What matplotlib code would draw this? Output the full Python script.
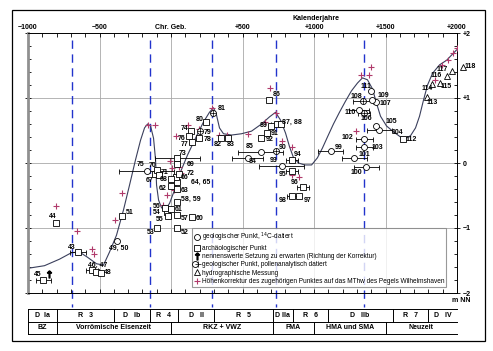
import matplotlib.pyplot as plt
from matplotlib.lines import Line2D
from matplotlib.patches import Rectangle
from matplotlib.ticker import MultipleLocator
from matplotlib.legend_handler import HandlerTuple

plt.rcParams['font.family'] = ['Liberation Sans', 'DejaVu Sans']

# Meeresspiegelkurve (Kalenderjahr, m NN)
curve_year = [-1000, -885, -780, -696, -640, -584, -521, -472, -430, -381, -332, -290,
              -248, -213, -185, -164, -143, -122, -108, -101, -87, -66, -38, -10, 24,
              66, 115, 171, 227, 269, 297, 318, 339, 367, 423, 493, 563, 633, 689, 731,
              766, 801, 829, 857, 892, 934, 983, 1024, 1059, 1094, 1136, 1178, 1220,
              1262, 1304, 1339, 1374, 1409, 1437, 1465, 1507, 1556, 1605, 1640, 1675,
              1710, 1738, 1766, 1794, 1829, 1878, 1927, 1962, 1997]
curve_h = [-1.62, -1.58, -1.48, -1.38, -1.37, -1.45, -1.55, -1.57, -1.37, -1.11, -0.72,
           -0.34, 0.05, 0.35, 0.54, 0.60, 0.57, 0.38, 0.05, -0.34, -0.57, -0.69, -0.71,
           -0.62, -0.42, -0.14, 0.12, 0.38, 0.63, 0.78, 0.85, 0.74, 0.54, 0.45, 0.43,
           0.45, 0.49, 0.60, 0.71, 0.78, 0.66, 0.46, 0.25, 0.08, 0.0, -0.03, -0.03,
           0.08, 0.23, 0.40, 0.60, 0.78, 0.95, 1.11, 1.23, 1.31, 1.28, 1.14, 0.92,
           0.72, 0.57, 0.48, 0.40, 0.38, 0.42, 0.54, 0.72, 0.97, 1.20, 1.38, 1.51,
           1.58, 1.66, 1.74]

# Punkte: c = 14C, s = archäologisch, p = pollenanalytisch, t = hydrographisch
pt_label = ['45', '44', '43', '46, 47', '', '48', '49, 50', '51', '52', '53', '54', '55',
            '56', '57', '58, 59', '60', '61', '62', '63', '64, 65', '66', '67', '68', '69',
            '70', '71', '72', '73', '74', '75', '76', '77', '78', '79', '80', '81', '82',
            '83', '84', '85', '86', '87, 88', '', '89', '90', '91', '92', '93', '94', '95',
            '96', '97', '98', '99', '100', '101', '102', '103', '104', '105', '106', '107',
            '108', '109', '110', '111', '112', '113', '114', '115', '116', '117', '118']
pt_kind = ['s', 's', 's', 's', 's', 's', 'c', 's', 's', 's', 's', 's',
           's', 's', 's', 's', 's', 's', 's', 's', 's', 's', 's', 's',
           's', 's', 's', 's', 's', 'c', 's', 's', 's', 'p', 's', 'p', 's',
           's', 'c', 'c', 's', 's', 's', 's', 'p', 's', 's', 'c', 's', 's',
           's', 's', 's', 'c', 'c', 'c', 'c', 'c', 'c', 'c', 'p', 'c',
           'p', 'c', 'c', 'c', 's', 't', 't', 't', 't', 't', 't']
pt_year = [-892, -801, -647, -549, -521, -493, -381, -346, 45, -101, -31, -24,
           -45, 45, 45, 150, 3, 3, 45, 45, 38, -115, 3, 45,
           -101, -87, 59, 45, 143, -171, 129, 150, 199, 206, 248, 297, 353,
           402, 535, 626, 682, 738, 766, 696, 731, 668, 626, 773, 843, 843,
           920, 892, 843, 1116, 1367, 1283, 1353, 1353, 1458, 1437, 1353, 1437,
           1346, 1409, 1318, 1402, 1619, 1787, 1822, 1878, 1927, 1962, 2039]
pt_h = [-1.80, -0.92, -1.37, -1.65, -1.68, -1.69, -1.20, -0.82, -1.00, -1.00, -0.75, -0.82,
        -0.69, -0.80, -0.60, -0.83, -0.71, -0.35, -0.40, -0.29, -0.22, -0.17, -0.25, -0.02,
        -0.11, -0.18, -0.17, 0.08, 0.49, -0.12, 0.42, 0.32, 0.38, 0.49, 0.63, 0.77, 0.38,
        0.38, 0.08, 0.17, 0.97, 0.60, 0.60, 0.57, 0.18, 0.46, 0.38, -0.05, 0.05, -0.12,
        -0.37, -0.51, -0.51, 0.18, -0.06, 0.08, 0.37, 0.25, 0.51, 0.57, 0.77, 0.94,
        0.95, 0.97, 0.82, 1.11, 0.37, 1.02, 1.22, 1.23, 1.34, 1.42, 1.48]
pt_xerr = [50, 0, 56, 42, 0, 0, 0, 0, 0, 0, 0, 0,
           0, 0, 0, 0, 0, 0, 0, 0, 0, 0, 0, 0,
           0, 0, 0, 155, 0, 190, 0, 0, 0, 0, 0, 0, 0,
           0, 110, 155, 0, 42, 0, 0, 0, 0, 0, 155, 42, 42,
           42, 0, 35, 90, 85, 85, 60, 60, 85, 0, 42, 0,
           70, 0, 70, 0, 0, 0, 0, 0, 0, 0, 0]

# Höhenkorrekturen auf das MThw
korr_year = [-801, -654, -549, -535, -395, -346, -164, -115, 38, 122, 199, 290, 339, 395,
             535, -10, 10, 59, 73, -31, 24, -59, 689, 731, 654, 773, 843, 843, 892,
             1297, 1332, 1388, 1402, 1843, 1892, 1934, 1969, 1997]
korr_h = [-0.66, -1.05, -1.32, -1.40, -0.88, -0.46, 0.58, 0.58, 0.42, 0.58, 0.52, 0.85, 0.43,
          0.43, 0.45, 0.03, -0.08, -0.06, -0.15, -0.49, -0.42, -0.65, 1.15, 0.77, 0.63, 0.34,
          0.25, -0.18, -0.22, 0.49, 1.35, 1.35, 1.48, 1.28, 1.51, 1.58, 1.69, 1.77]

setzung_year = [-850]
setzung_h = [-1.71]

grenz_jahre = [-690, -150, 290, 731, 1350]

phasen = ['D  Ia', 'R   3', 'D   Ib', 'R   4', 'D   II', 'R   5', 'D IIa', 'R   6',
          'D   IIb', 'R   7', 'D   IV']
phasen_grenzen = [-1000, -800, -400, -150, 50, 300, 710, 850, 1095, 1550, 1795, 2000]
epochen = ['BZ', 'Vorrömische Eisenzeit', 'RKZ + VWZ', 'FMA', 'HMA und SMA', 'Neuzeit']
epochen_grenzen = [-1000, -800, 0, 710, 1000, 1500, 2000]

x_ticks = [-1000, -500, 0, 500, 1000, 1500, 2000]
x_labels = ['−1000', '−500', 'Chr. Geb.', '+500', '+1000', '+1500', '+2000']
y_ticks = [-2, -1, 0, 1, 2]
y_labels = ['−2', '−1', '0', '+1', '+2']

label_off = {
    '45': (-6, 5), '44': (-4, 6), '43': (-7, 5), '46, 47': (5, 5), '48': (7, 0),
    '49, 50': (2, -7), '51': (8, 4), '52': (7, -5), '53': (-6, -4), '54': (-10, -1),
    '55': (-8, -3), '56': (-8, 1), '57': (7, -4), '58, 59': (13, 3), '60': (7, -2),
    '61': (7, 0), '62': (-9, -3), '63': (7, -1), '64, 65': (23, 0), '66': (8, 0),
    '67': (-5, -6), '68': (-8, 0), '69': (13, 0), '70': (-4, 5), '71': (6, 2),
    '72': (11, 1), '73': (5, 4), '74': (-7, 3), '75': (-6, 6), '76': (-8, -3),
    '77': (-8, -2), '78': (8, -1), '79': (7, -1), '80': (-7, 3), '81': (8, 4),
    '82': (-4, -6), '83': (2, -6), '84': (5, -4), '85': (-11, 5), '86': (8, 5),
    '87, 88': (15, 2), '89': (-7, 0), '90': (7, 4), '91': (8, 0), '92': (9, -1),
    '93': (-8, 6), '94': (6, 5), '95': (-9, -4), '96': (-8, 5), '97': (9, -4),
    '98': (-9, -4), '99': (8, 4), '100': (-10, -6), '101': (10, 3), '102': (-17, 1),
    '103': (13, -1), '104': (18, -3), '105': (15, 4), '106': (2, -6), '107': (9, -2),
    '108': (-7, 5), '109': (11, 4), '110': (-9, -3), '111': (-5, 4), '112': (9, -1),
    '113': (6, -6), '114': (-4, -5), '115': (7, -3), '116': (-10, 0), '117': (-9, 1),
    '118': (8, 0),
}

W, H = 493, 351
fig = plt.figure(figsize=(W / 100, H / 100), dpi=100)
ax = fig.add_axes([28 / W, 1 - 293 / H, (457 - 28) / W, (293 - 33) / H])
ax.set_xlim(-1000, 2000)
ax.set_ylim(-2, 2)

# Gitter
for x in [-500, 0, 500, 1000, 1500]:
    ax.axvline(x, color='#a8a8a8', lw=0.6, zorder=0)
for y in [-1, 0, 1]:
    ax.axhline(y, color='#a8a8a8', lw=0.6, zorder=0)

# Grenzen (blau gestrichelt)
for x in grenz_jahre:
    ax.plot([x, x], [1.89, -2.22], color='#2233cc', lw=1.0, dashes=(6, 4),
            clip_on=False, zorder=1)

ax.plot(curve_year, curve_h, color='#3a3f5c', lw=0.8, zorder=2)

ax.plot(korr_year, korr_h, ls='none', marker='+', ms=5, mew=0.8, color='#b03a6b',
        zorder=3)

for x, y, xe in zip(pt_year, pt_h, pt_xerr):
    if xe > 0:
        ax.errorbar(x, y, xerr=xe, fmt='none', ecolor='k', elinewidth=0.6,
                    capsize=1.8, capthick=0.6, zorder=4)

mk = {'c': 'o', 's': 's', 'p': 'o', 't': '^'}
ms = {'c': 4.3, 's': 3.8, 'p': 4.3, 't': 4.3}
for x, y, k in zip(pt_year, pt_h, pt_kind):
    ax.plot(x, y, marker=mk[k], ms=ms[k], mfc='white', mec='k', mew=0.6, ls='none',
            clip_on=False, zorder=5)
    if k == 'p':
        ax.plot(x, y, marker='+', ms=4.3, mew=0.5, color='k', ls='none', zorder=6)

ax.plot(setzung_year, setzung_h, marker=r'$\uparrow$', ms=5, color='k', ls='none',
        zorder=5)

for lab, x, y in zip(pt_label, pt_year, pt_h):
    if lab:
        dx, dy = label_off[lab]
        ax.annotate(lab, (x, y), xytext=(dx, dy), textcoords='offset pixels',
                    ha='center', va='center', fontsize=5, fontweight='bold',
                    annotation_clip=False, zorder=7)

# Achsen
ax.xaxis.tick_top()
ax.set_xticks(x_ticks)
ax.set_xticklabels(x_labels, fontsize=5, fontweight='bold')
ax.xaxis.set_minor_locator(MultipleLocator(100))
ax.tick_params(axis='x', which='both', top=True, bottom=True, direction='in',
               length=3, width=0.6, pad=1.5)
ax.yaxis.tick_right()
ax.set_yticks(y_ticks)
ax.set_yticklabels(y_labels, fontsize=5, fontweight='bold')
ax.yaxis.set_minor_locator(MultipleLocator(0.2))
ax.tick_params(axis='y', which='major', left=True, right=True, direction='inout',
               length=5, width=0.6, pad=1.5)
ax.tick_params(axis='y', which='minor', left=True, right=True, direction='in',
               length=2.5, width=0.6)
for s in ['top', 'right', 'bottom']:
    ax.spines[s].set_linewidth(0.7)
ax.spines['left'].set_color('#909090')
ax.spines['left'].set_linewidth(2)

fig.text(316 / W, 1 - 18 / H, 'Kalenderjahre', ha='center', va='center', fontsize=5,
         fontweight='bold')
fig.text(461 / W, 1 - 301 / H, 'm NN', ha='center', va='center', fontsize=5,
         fontweight='bold')

# Legende
kreis = Line2D([], [], marker='o', ms=4.3, mfc='white', mec='k', mew=0.6, ls='none')
kreuz = Line2D([], [], marker='+', ms=4.3, mew=0.5, color='k', ls='none')
handles = [
    Line2D([], [], marker='o', ms=4.3, mfc='white', mec='k', mew=0.6, ls='none'),
    Line2D([], [], marker='s', ms=3.8, mfc='white', mec='k', mew=0.6, ls='none'),
    Line2D([], [], marker=r'$\uparrow$', ms=5, color='k', ls='none'),
    (kreis, kreuz),
    Line2D([], [], marker='^', ms=4.3, mfc='white', mec='k', mew=0.6, ls='none'),
    Line2D([], [], marker='+', ms=5, mew=0.8, color='#b03a6b', ls='none'),
]
texts = [
    'geologischer Punkt, $^{14}$C-datiert',
    'archäologischer Punkt',
    'nennenswerte Setzung zu erwarten (Richtung der Korrektur)',
    'geologischer Punkt, pollenanalytisch datiert',
    'hydrographische Messung',
    'Höhenkorrektur des zugehörigen Punktes auf das MThw des Pegels Wilhelmshaven',
]
leg = ax.legend(handles, texts, loc='lower left',
                bbox_to_anchor=((192 - 28) / (457 - 28), (293 - 287) / (293 - 33)),
                handlelength=0.8, handletextpad=0.4, labelspacing=0.2,
                borderpad=0.3, borderaxespad=0, frameon=True, fancybox=False,
                prop={'size': 4.7}, handler_map={tuple: HandlerTuple(ndivide=None)})
leg.get_frame().set_edgecolor('#808080')
leg.get_frame().set_linewidth(0.8)
leg.set_zorder(8)

# Tabelle der Phasen und Epochen
tax = fig.add_axes([28 / W, 1 - 334 / H, (457 - 28) / W, (334 - 309) / H])
tax.set_xlim(-1000, 2000)
tax.set_ylim(0, 2)
tax.axis('off')
for y in [0, 1, 2]:
    tax.plot([-1000, 2000], [y, y], color='k', lw=0.7, clip_on=False)
for i, name in enumerate(phasen):
    a, b = phasen_grenzen[i], phasen_grenzen[i + 1]
    tax.plot([a, a], [1, 2], color='k', lw=0.7, clip_on=False)
    tax.text((a + b) / 2, 1.5, name, ha='center', va='center', fontsize=5,
             fontweight='bold')
for i, name in enumerate(epochen):
    a, b = epochen_grenzen[i], epochen_grenzen[i + 1]
    tax.plot([a, a], [0, 1], color='k', lw=0.7, clip_on=False)
    tax.text((a + b) / 2, 0.5, name, ha='center', va='center', fontsize=5,
             fontweight='bold')

fig.add_artist(Rectangle((12 / W, 1 - 341 / H), (485 - 12) / W, (341 - 10) / H,
                         transform=fig.transFigure, fill=False, lw=0.9, ec='k'))

fig.savefig('out.png', dpi=100)
